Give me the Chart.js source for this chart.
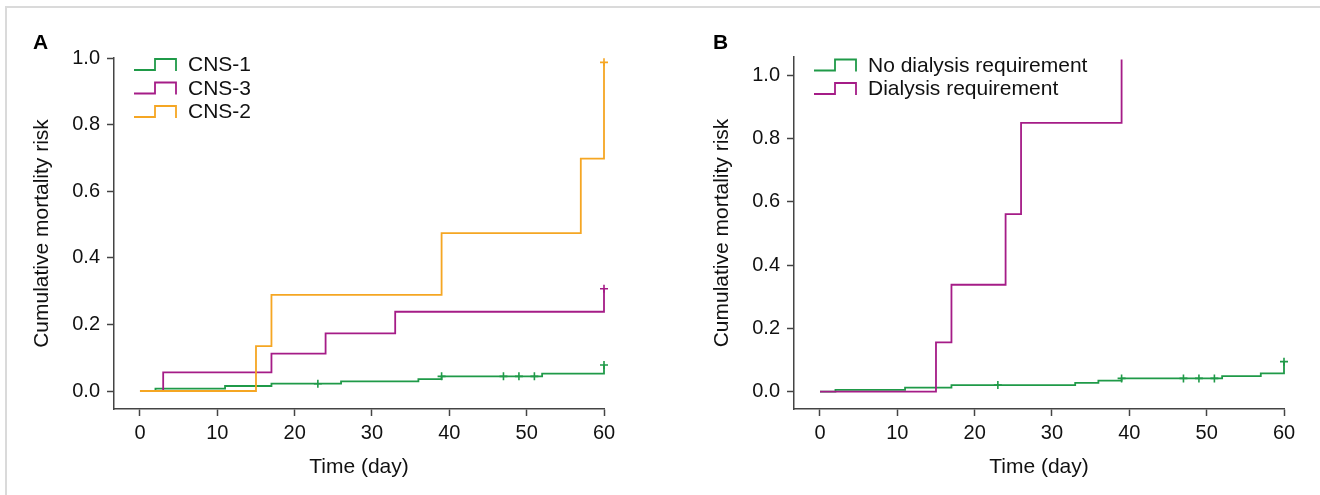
<!DOCTYPE html>
<html><head><meta charset="utf-8">
<script src="https://cdn.jsdelivr.net/npm/chart.js@4.4.0/dist/chart.umd.min.js"></script>
<style>
html,body{margin:0;padding:0;background:#fff;width:1320px;height:495px;overflow:hidden;font-family:"Liberation Sans",Arial,sans-serif;}
#frame{position:absolute;left:5px;top:6px;width:1315px;height:489px;border-top:2px solid #dadada;border-left:2px solid #dadada;}
.panel{position:absolute;top:0;width:660px;height:495px;}
.letter{position:absolute;font-weight:bold;font-size:21px;color:#000;line-height:normal;}
</style></head><body>
<div id="frame"></div>
<div class="panel" style="left:0"><canvas id="cA" width="660" height="495"></canvas></div>
<div class="panel" style="left:660px"><canvas id="cB" width="660" height="495"></canvas></div>
<div class="letter" style="left:33px;top:30px">A</div>
<div class="letter" style="left:713px;top:30px">B</div>
<script>
// ---- tick labels ----
const xTicks = [0, 10, 20, 30, 40, 50, 60];
const yTicks = [0, 0.2, 0.4, 0.6, 0.8, 1.0];

// ---- Panel A: CNS groups ----
const cns1Days = [0, 2, 11, 17, 26, 36, 39, 52, 60];
const cns1Risk = [0, 0.007, 0.015, 0.022, 0.029, 0.036, 0.044, 0.052, 0.078];
const cns1CensorDays = [23, 39, 47, 49, 51, 60];
const cns1CensorRisk = [0.022, 0.044, 0.044, 0.044, 0.044, 0.078];

const cns3Days = [0, 3, 17, 24, 33, 60];
const cns3Risk = [0, 0.056, 0.112, 0.173, 0.238, 0.307];
const cns3CensorDays = [60];
const cns3CensorRisk = [0.307];

const cns2Days = [0, 15, 17, 39, 57, 60];
const cns2Risk = [0, 0.135, 0.289, 0.474, 0.698, 0.987];
const cns2CensorDays = [60];
const cns2CensorRisk = [0.987];

// ---- Panel B: dialysis ----
const noDialDays = [0, 2, 11, 17, 33, 36, 39, 52, 57, 60];
const noDialRisk = [0, 0.006, 0.013, 0.021, 0.028, 0.035, 0.042, 0.049, 0.058, 0.095];
const noDialCensorDays = [23, 39, 47, 49, 51, 60];
const noDialCensorRisk = [0.021, 0.042, 0.042, 0.042, 0.042, 0.095];

const dialDays = [0, 15, 17, 24, 26, 39];
const dialRisk = [0, 0.156, 0.338, 0.561, 0.850, 1.05];

const GREEN = '#1f9a48', MAGENTA = '#a51c87', ORANGE = '#f5a623';
const FONT = '"Liberation Sans", Arial, sans-serif';

const pts = (xs, ys) => xs.map((x, i) => ({x: x, y: ys[i]}));

function stepSet(label, xs, ys, color, order) {
  return {label: label, data: pts(xs, ys), borderColor: color, backgroundColor: color,
    borderWidth: 1.8, stepped: 'before', pointRadius: 0, fill: false, order: order, clip: false};
}
function censorSet(xs, ys, color, order) {
  return {label: '', data: pts(xs, ys), borderColor: color, backgroundColor: color,
    showLine: false, pointStyle: 'cross', pointRadius: 4, pointBorderWidth: 1.6, order: order, clip: false};
}

const stepLegend = {
  id: 'stepLegend',
  afterDraw(chart, args, opts) {
    const ctx = chart.ctx, ca = chart.chartArea;
    ctx.save();
    opts.items.forEach((idx, i) => {
      const ds = chart.data.datasets[idx];
      const cy = ca.top + opts.firstRow + i * opts.rowGap;
      const x0 = ca.left + 20, xm = ca.left + 41, x1 = ca.left + 62;
      ctx.strokeStyle = ds.borderColor; ctx.lineWidth = 1.8;
      ctx.beginPath();
      ctx.moveTo(x0, cy + 5.5); ctx.lineTo(xm, cy + 5.5); ctx.lineTo(xm, cy - 5.5);
      ctx.lineTo(x1, cy - 5.5); ctx.lineTo(x1, cy + 6.5);
      ctx.stroke();
      ctx.fillStyle = '#111'; ctx.font = '21px ' + FONT;
      ctx.textBaseline = 'middle'; ctx.textAlign = 'left';
      ctx.fillText(ds.label, ca.left + 74, cy + 1);
    });
    ctx.restore();
  }
};

function makeChart(id, datasets, o) {
  return new Chart(document.getElementById(id), {
    type: 'line',
    data: {datasets: datasets},
    plugins: [stepLegend],
    options: {
      responsive: false, animation: false, devicePixelRatio: 1,
      layout: {padding: {left: 0, right: o.padRight, top: o.padTop, bottom: 6}},
      plugins: {legend: {display: false}, tooltip: {enabled: false},
        stepLegend: {items: o.legendItems, firstRow: o.firstRow, rowGap: 23.5}},
      scales: {
        x: {type: 'linear', min: -3.36, max: 60,
          afterBuildTicks: s => { s.ticks = xTicks.map(v => ({value: v})); },
          afterFit: s => { s.height = 80; },
          grid: {drawOnChartArea: false, drawTicks: true, tickLength: 7, tickColor: '#444', tickWidth: 1.5},
          border: {display: true, color: '#444', width: 1.5},
          ticks: {padding: 5, color: '#111', font: {family: FONT, size: 20}, maxRotation: 0, autoSkip: false,
            callback: v => String(v)},
          title: {display: true, text: 'Time (day)', color: '#111', font: {family: FONT, size: 21},
            padding: {top: 0, bottom: 9}}
        },
        y: {type: 'linear', min: o.yMin, max: o.yMax,
          afterBuildTicks: s => { s.ticks = yTicks.map(v => ({value: v})); },
          afterFit: s => { s.width = o.yWidth; },
          grid: {drawOnChartArea: false, drawTicks: true, tickLength: 7, tickColor: '#444', tickWidth: 1.5},
          border: {display: true, color: '#444', width: 1.5},
          ticks: {padding: 7, color: '#111', font: {family: FONT, size: 20}, autoSkip: false,
            callback: v => Number(v).toFixed(1)},
          title: {display: true, text: 'Cumulative mortality risk', color: '#111', font: {family: FONT, size: 21},
            padding: {top: o.yTitlePad, bottom: 0}}
        }
      }
    }
  });
}

makeChart('cA', [
  stepSet('CNS-1', cns1Days, cns1Risk, GREEN, 3),
  stepSet('CNS-3', cns3Days, cns3Risk, MAGENTA, 2),
  stepSet('CNS-2', cns2Days, cns2Risk, ORANGE, 1),
  censorSet(cns1CensorDays, cns1CensorRisk, GREEN, 3),
  censorSet(cns3CensorDays, cns3CensorRisk, MAGENTA, 2),
  censorSet(cns2CensorDays, cns2CensorRisk, ORANGE, 1)
], {padRight: 56, padTop: 58, yMin: -0.054, yMax: 1.0, yWidth: 114, yTitlePad: 29.4,
    legendItems: [0, 1, 2], firstRow: 6.5});

makeChart('cB', [
  stepSet('No dialysis requirement', noDialDays, noDialRisk, GREEN, 2),
  stepSet('Dialysis requirement', dialDays, dialRisk, MAGENTA, 1),
  censorSet(noDialCensorDays, noDialCensorRisk, GREEN, 2)
], {padRight: 36, padTop: 57, yMin: -0.0547, yMax: 1.058, yWidth: 134, yTitlePad: 50,
    legendItems: [0, 1], firstRow: 8});
</script>
</body></html>
